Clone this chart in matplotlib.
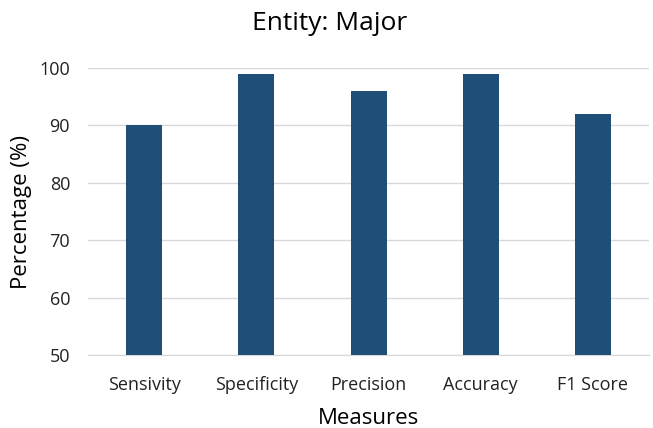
import matplotlib
matplotlib.use("Agg")
import matplotlib.pyplot as plt

plt.rcParams['font.family'] = ['Open Sans', 'DejaVu Sans']

measures = ["Sensivity", "Specificity", "Precision", "Accuracy", "F1 Score"]
values = [90, 99, 96, 99, 92]

fig = plt.figure(figsize=(6.53, 4.28), dpi=100)
ax = fig.add_axes([0.135, 0.1706, 0.859, 0.6704])

ax.bar(measures, values, width=0.32, color="#1F4E79", zorder=3)
ax.set_ylim(50, 100)
ax.set_xlim(-0.5, len(measures) - 0.5)
ax.set_yticks(range(50, 101, 10))
ax.grid(axis="y", color="#d9d9d9", linewidth=1, zorder=0)

for side in ["top", "right", "left"]:
    ax.spines[side].set_visible(False)
ax.spines["bottom"].set_color("#d9d9d9")
ax.tick_params(axis="both", length=0, labelsize=13, colors="#222222")
ax.tick_params(axis="x", pad=15)
ax.tick_params(axis="y", pad=13)

# title is centred on the whole figure, not on the axes
fig.text(0.505, 0.945, "Entity: Major", fontsize=19, ha="center", va="center")
ax.set_xlabel("Measures", fontsize=16, labelpad=10)
ax.set_ylabel("Percentage (%)", fontsize=16, labelpad=5)

fig.savefig("out.png", dpi=100)
